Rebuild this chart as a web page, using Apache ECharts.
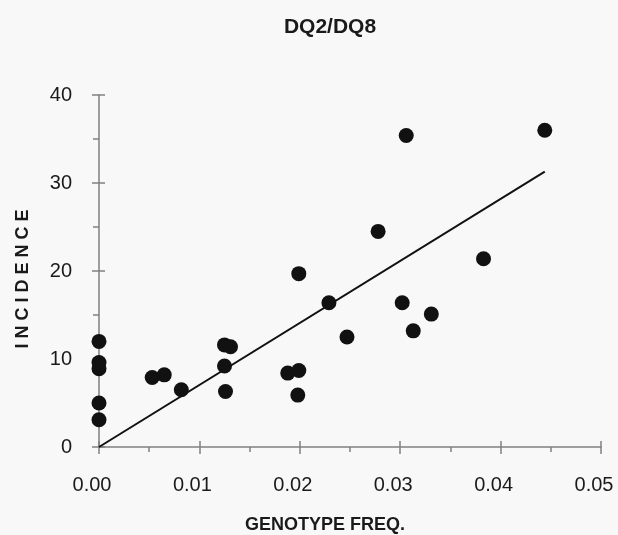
<!DOCTYPE html>
<html>
<head>
<meta charset="utf-8">
<script src="https://cdn.jsdelivr.net/npm/echarts@6/dist/echarts.min.js"></script>
<style>html,body{margin:0;padding:0;background:#f8f8f8}#c{width:618px;height:535px}</style>
</head>
<body>
<div id="c"></div>
<script>
var titleText = 'DQ2/DQ8';
var xName = 'GENOTYPE FREQ.';
var yName = 'I N C I D E N C E';
var genotypeFreq = [0, 0, 0, 0, 0, 0.0053, 0.0065, 0.0082, 0.0125, 0.0131, 0.0125, 0.0126, 0.0188, 0.0199, 0.0198, 0.0199, 0.0229, 0.0247, 0.0306, 0.0444, 0.0278, 0.0383, 0.0302, 0.0331, 0.0313];
var incidence =    [12.0, 9.6, 8.9, 5.0, 3.1, 7.9, 8.2, 6.5, 11.6, 11.4, 9.2, 6.3, 8.4, 8.7, 5.9, 19.7, 16.4, 12.5, 35.4, 36.0, 24.5, 21.4, 16.4, 15.1, 13.2];
var fitX = [0, 0.0444];
var fitY = [0, 31.3];

var pts = genotypeFreq.map(function(x, i){ return [x, incidence[i]]; });
var fit = fitX.map(function(x, i){ return [x, fitY[i]]; });

var font = '"Liberation Sans", Arial, sans-serif';
var axisColor = '#808080';
var textColor = '#1a1a1a';
var chart = echarts.init(document.getElementById('c'));
chart.setOption({
  backgroundColor: '#f8f8f8',
  animation: false,
  title: {text: titleText, left: 325, textAlign: 'center', top: 12, textStyle: {fontFamily: font, fontWeight: 'bold', fontSize: 21, color: textColor}},
  grid: {left: 99, right: 17, top: 95, bottom: 88, containLabel: false, outerBoundsMode: 'none'},
  xAxis: [{
    type: 'value', min: 0, max: 0.05, interval: 0.01,
    name: xName, nameLocation: 'middle', nameGap: 69,
    nameTextStyle: {fontFamily: font, fontWeight: 'bold', fontSize: 18, color: textColor, padding: [0, 50, 0, 0]},
    axisLine: {show: true, onZero: false, lineStyle: {color: axisColor, width: 1.5}},
    axisTick: {show: true, length: 7, lineStyle: {color: axisColor, width: 1.5}},
    minorTick: {show: true, splitNumber: 2, length: 5, lineStyle: {color: axisColor, width: 1.5}},
    axisLabel: {margin: 28, fontFamily: font, fontSize: 20, color: textColor, padding: [0, 14, 0, 0], formatter: function(v){ return v.toFixed(2); }},
    splitLine: {show: false}
  }, {
    type: 'value', min: 0, max: 0.05, interval: 0.01, position: 'bottom',
    axisLine: {show: false}, axisLabel: {show: false}, splitLine: {show: false},
    axisTick: {show: true, inside: true, length: 6, lineStyle: {color: axisColor, width: 1.5}}
  }],
  yAxis: [{
    type: 'value', min: 0, max: 40, interval: 10,
    name: yName, nameLocation: 'middle', nameGap: 67,
    nameTextStyle: {fontFamily: font, fontWeight: 'bold', fontSize: 18, color: textColor, padding: [0, 16, 0, 0]},
    axisLine: {show: true, onZero: false, lineStyle: {color: axisColor, width: 1.5}},
    axisTick: {show: true, length: 7, lineStyle: {color: axisColor, width: 1.5}},
    minorTick: {show: true, splitNumber: 2, length: 6, lineStyle: {color: axisColor, width: 1.5}},
    axisLabel: {margin: 27, fontFamily: font, fontSize: 20, color: textColor},
    splitLine: {show: false}
  }, {
    type: 'value', min: 0, max: 40, interval: 10, position: 'left',
    axisLine: {show: false}, axisLabel: {show: false}, splitLine: {show: false},
    axisTick: {show: true, inside: true, length: 6, lineStyle: {color: axisColor, width: 1.5}}
  }],
  series: [{
    type: 'line', data: fit, showSymbol: false, symbol: 'none',
    lineStyle: {color: '#111', width: 2}, z: 2
  }, {
    type: 'scatter', data: pts, symbol: 'circle', symbolSize: 15,
    itemStyle: {color: '#111', opacity: 1}, z: 3
  }]
});
</script>
</body>
</html>
